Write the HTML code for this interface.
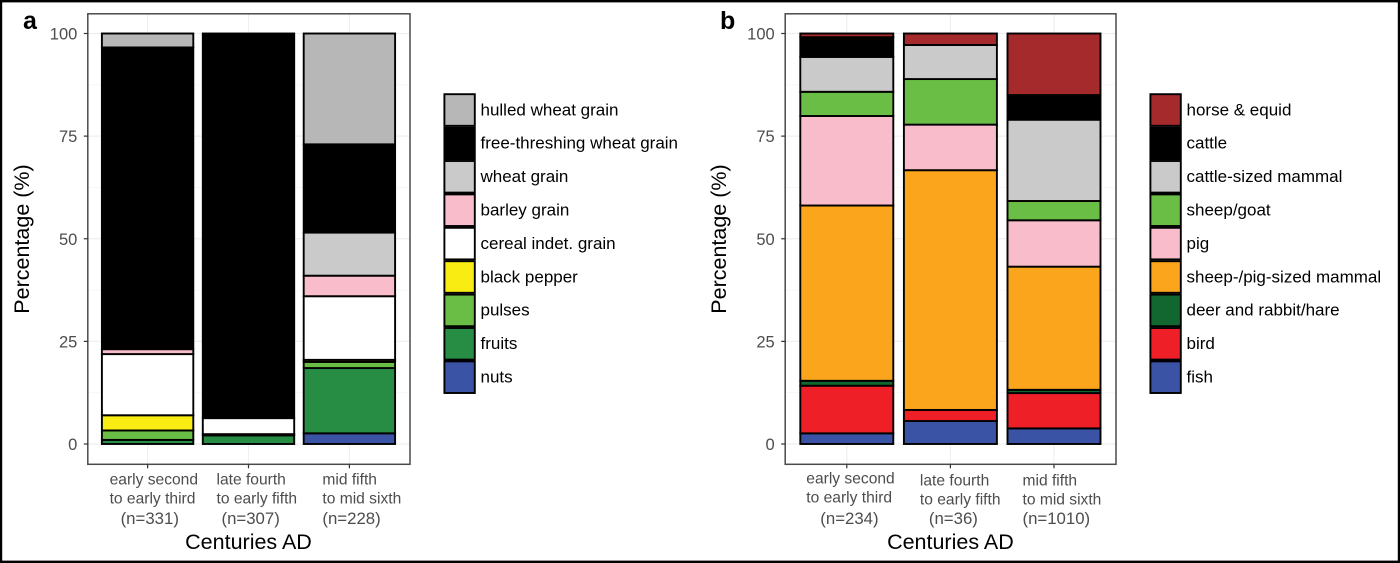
<!DOCTYPE html>
<html lang="en">
<head>
<meta charset="utf-8">
<title>Stacked bar charts</title>
<style>
html,body{margin:0;padding:0;background:#fff;}
body{width:1400px;height:563px;overflow:hidden;}
svg{display:block;font-family:"Liberation Sans",Arial,sans-serif;}
</style>
</head>
<body>
<svg id="figure" xmlns="http://www.w3.org/2000/svg" width="1400" height="563" viewBox="0 0 1400 563">
  <rect x="0" y="0" width="1400" height="563" fill="#fff"/>
  <rect x="1" y="1.2" width="1398" height="560.6" fill="none" stroke="#000" stroke-width="2.4"/>
  <g id="panel-a"></g>
  <g id="panel-b"></g>
</svg>
<script>
// ---------- Data: panel a (plant remains, % per period) ----------
const periodLinesA = [["early second", "to early third"], ["late fourth", "to early fifth"], ["mid fifth", "to mid sixth"]];
const sampleLabelsA = ["(n=331)", "(n=307)", "(n=228)"];
const seriesNamesA = ["hulled wheat grain", "free-threshing wheat grain", "wheat grain", "barley grain", "cereal indet. grain", "black pepper", "pulses", "fruits", "nuts"];
const hulledWheat = [3.4, 0, 27];
const freeThreshing = [73.5, 93.7, 21.5];
const wheatGrain = [0, 0, 10.5];
const barleyGrain = [1.2, 0, 5];
const cerealIndet = [14.9, 3.9, 15.5];
const blackPepper = [3.7, 0, 0.5];
const pulses = [2.3, 0.3, 1.5];
const fruits = [1, 2.1, 15.9];
const nuts = [0, 0, 2.6];
const seriesValuesA = [hulledWheat, freeThreshing, wheatGrain, barleyGrain, cerealIndet, blackPepper, pulses, fruits, nuts];
const seriesColorsA = ["#b7b7b7", "#000000", "#cbcaca", "#f8bccb", "#ffffff", "#f8ec13", "#6abd45", "#278c44", "#3b53a4"];

// ---------- Data: panel b (animal bones, % per period) ----------
const periodLinesB = [["early second", "to early third"], ["late fourth", "to early fifth"], ["mid fifth", "to mid sixth"]];
const sampleLabelsB = ["(n=234)", "(n=36)", "(n=1010)"];
const seriesNamesB = ["horse & equid", "cattle", "cattle-sized mammal", "sheep/goat", "pig", "sheep-/pig-sized mammal", "deer and rabbit/hare", "bird", "fish"];
const horseEquid = [0.9, 2.8, 15];
const cattle = [4.8, 0, 6];
const cattleSized = [8.5, 8.3, 19.8];
const sheepGoat = [5.9, 11.1, 4.7];
const pig = [21.8, 11.1, 11.3];
const sheepPigSized = [42.7, 58.4, 30];
const deerRabbit = [1.2, 0, 0.8];
const bird = [11.6, 2.7, 8.6];
const fish = [2.6, 5.6, 3.8];
const seriesValuesB = [horseEquid, cattle, cattleSized, sheepGoat, pig, sheepPigSized, deerRabbit, bird, fish];
const seriesColorsB = ["#a52a2b", "#000000", "#cbcaca", "#6abd45", "#f8bccb", "#fba51c", "#12662f", "#ee1f27", "#3b53a4"];

// ---------- Axis ticks ----------
const yTicks = [0, 25, 50, 75, 100];
const yMinorTicks = [12.5, 37.5, 62.5, 87.5];

const SVG_NS = "http://www.w3.org/2000/svg";
function mk(parent, tag, attrs, text) {
  const el = document.createElementNS(SVG_NS, tag);
  for (const k in attrs) el.setAttribute(k, attrs[k]);
  if (text !== undefined) el.textContent = text;
  parent.appendChild(el);
  return el;
}

function drawPanel(cfg) {
  const g = document.getElementById(cfg.id);
  const yOf = v => 444 - v * 4.105;
  const xOf = i => cfg.firstCenter + i * cfg.step;
  const { left, right } = cfg;
  const top = 13.8, bottom = 464.3;

  // panel background and grid
  const bg = mk(g, "rect", { x: left, y: top, width: right - left, height: bottom - top, fill: "#fff" });
  
  
  yMinorTicks.forEach(t => {
    const l = mk(g, "line", { x1: left, x2: right, y1: yOf(t), y2: yOf(t), stroke: "#f6f6f6", "stroke-width": 0.8 });
    
    
  });
  yTicks.forEach(t => {
    const l = mk(g, "line", { x1: left, x2: right, y1: yOf(t), y2: yOf(t), stroke: "#efefef", "stroke-width": 1.2 });
    
    
  });
  cfg.periods.forEach((p, i) => {
    const l = mk(g, "line", { x1: xOf(i), x2: xOf(i), y1: top, y2: bottom, stroke: "#efefef", "stroke-width": 1.2 });
    
    
  });

  // stacked bars: the last series sits at the bottom of the stack
  cfg.periods.forEach((p, i) => {
    let cum = 0;
    for (let s = cfg.values.length - 1; s >= 0; s--) {
      const v = cfg.values[s][i];
      if (v <= 0) continue;
      const y1 = yOf(cum + v), y0 = yOf(cum);
      const r = mk(g, "rect", {
        x: xOf(i) - cfg.barWidth / 2, y: y1, width: cfg.barWidth, height: y0 - y1,
        fill: cfg.colors[s], stroke: "#000", "stroke-width": 1.9
      });
      
      
      cum += v;
    }
  });

  // panel frame
  const frame = mk(g, "rect", { x: left, y: top, width: right - left, height: bottom - top, fill: "none", stroke: "#4a4a4a", "stroke-width": 1.5 });
  
  

  // y axis
  yTicks.forEach(t => {
    const l = mk(g, "line", { x1: left - 4, x2: left, y1: yOf(t), y2: yOf(t), stroke: "#333", "stroke-width": 1.2 });
    
    
    const tx = mk(g, "text", { x: left - 10.5, y: yOf(t) + 6, "text-anchor": "end", "font-size": 16.5, fill: "#4d4d4d" }, String(t));
    
    
  });
  const yTitleX = cfg.yTitleX;
  const yt = mk(g, "text", { x: yTitleX, y: 239, transform: "rotate(-90 " + yTitleX + " 239)", "text-anchor": "middle", "font-size": 21.5, fill: "#000" }, "Percentage (%)");
  
  

  // x axis
  cfg.periods.forEach((p, i) => {
    const l = mk(g, "line", { x1: xOf(i), x2: xOf(i), y1: bottom, y2: bottom + 4, stroke: "#333", "stroke-width": 1.2 });
    
    
    const lay = cfg.labelLayout[i];
    p.forEach((line, k) => {
      const t = mk(g, "text", { x: xOf(i) + lay.dx, y: 484.5 + lay.dy + k * 18.8, "font-size": 15.6, fill: "#4d4d4d" }, line);
      
      
    });
    const n = mk(g, "text", { x: xOf(i) + lay.dx + lay.indent, y: 524, "font-size": 16.8, fill: "#4d4d4d" }, cfg.samples[i]);
    
    
  });
  const xt = mk(g, "text", { x: xOf(1), y: 549, "text-anchor": "middle", "font-size": 21.5, fill: "#000" }, "Centuries AD");
  
  

  // panel letter
  const letter = mk(g, "text", { x: cfg.letterX, y: 29, "font-size": 25, "font-weight": "bold", fill: "#000" }, cfg.letter);
  
  

  // legend
  cfg.names.forEach((name, i) => {
    const rowTop = 93.3 + i * 33.4;
    const key = mk(g, "rect", { x: cfg.legendX + 0.9, y: rowTop + 0.9, width: 30.4, height: 31.6, fill: cfg.colors[i], stroke: "#000", "stroke-width": 1.9 });
    
    
    const tx = mk(g, "text", { x: cfg.legendX + 37, y: rowTop + 22, "font-size": 17, fill: "#000" }, name);
    
    
  });
}

drawPanel({
  id: "panel-a", letter: "a", letterX: 23,
  left: 87.8, right: 410, firstCenter: 147.6, step: 100.9, barWidth: 91.4, yTitleX: 29,
  legendX: 443.5,
  periods: periodLinesA, samples: sampleLabelsA, names: seriesNamesA, values: seriesValuesA, colors: seriesColorsA,
  labelLayout: [{ dx: -38, dy: 0, indent: 11 }, { dx: -32, dy: 0, indent: 5 }, { dx: -27, dy: 0, indent: 0 }]
});
drawPanel({
  id: "panel-b", letter: "b", letterX: 720,
  left: 785.2, right: 1116, firstCenter: 846.8, step: 103.6, barWidth: 93, yTitleX: 726,
  legendX: 1149.5,
  periods: periodLinesB, samples: sampleLabelsB, names: seriesNamesB, values: seriesValuesB, colors: seriesColorsB,
  labelLayout: [{ dx: -40.5, dy: -1, indent: 14 }, { dx: -30.5, dy: 1, indent: 9 }, { dx: -31.5, dy: 1, indent: 0 }]
});
</script>
</body>
</html>
